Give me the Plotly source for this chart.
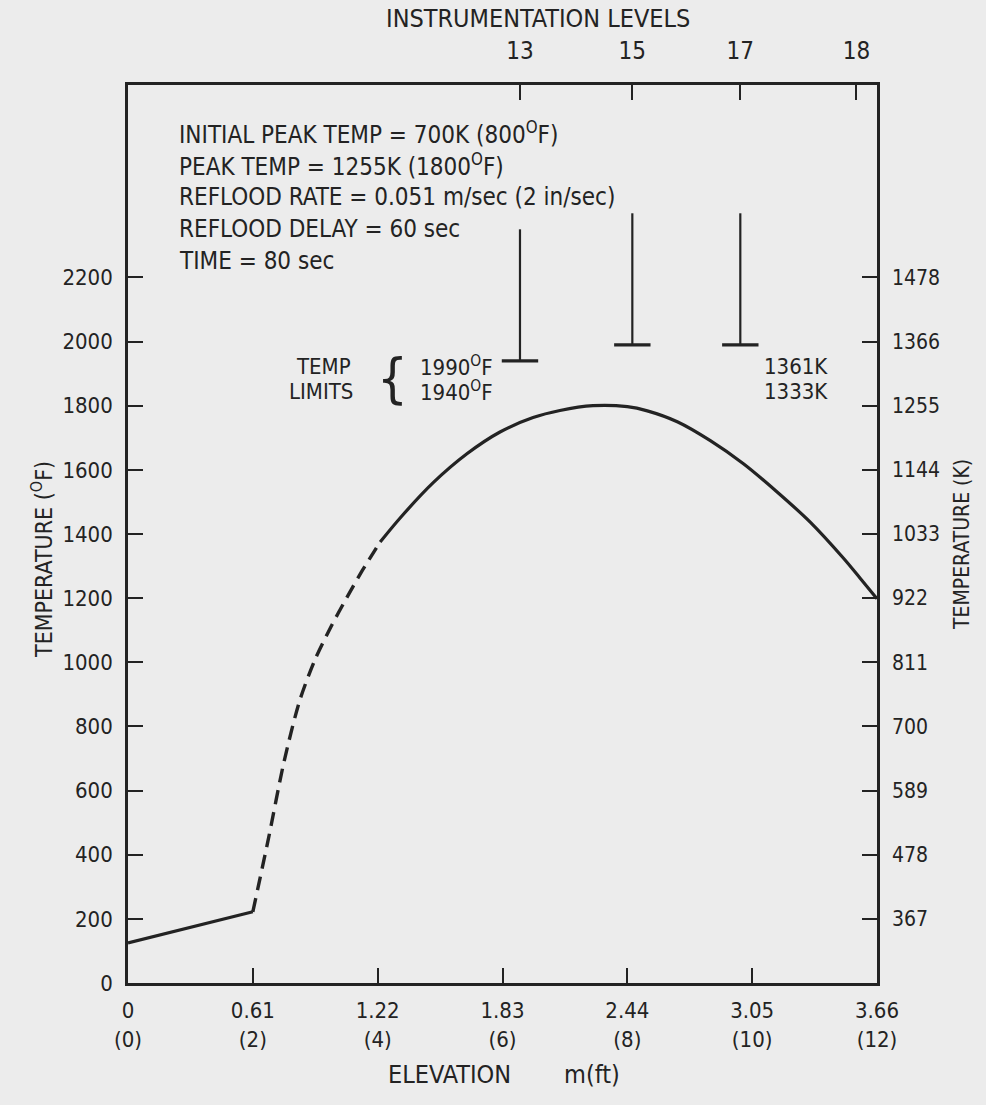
import plotly.graph_objects as go

# ---------------- data ----------------
elev_ft_low = [0.0, 2.0]
temp_low = [125, 222]
elev_ft_dash = [2.0, 2.25, 2.5, 2.75, 3.0, 3.25, 3.5, 3.75, 4.04]
temp_dash = [222, 450, 690, 880, 1010, 1110, 1200, 1285, 1375]
elev_ft_main = [4.04, 4.36, 4.89, 5.43, 5.96, 6.49, 6.92, 7.45, 8.0, 8.32,
                8.8, 9.33, 9.86, 10.4, 10.93, 11.46, 11.73, 12.0]
temp_main = [1375, 1450, 1560, 1650, 1718, 1763, 1785, 1800, 1797, 1784,
             1750, 1691, 1619, 1531, 1437, 1325, 1262, 1198]

x_ticks_ft = [0, 2, 4, 6, 8, 10, 12]
x_tick_m = ["0", "0.61", "1.22", "1.83", "2.44", "3.05", "3.66"]
y_ticks_F = [0, 200, 400, 600, 800, 1000, 1200, 1400, 1600, 1800, 2000, 2200]
k_ticks_F = [200, 400, 600, 800, 1000, 1200, 1400, 1600, 1800, 2000, 2200]
k_labels = ["367", "478", "589", "700", "811", "922", "1033", "1144", "1255", "1366", "1478"]
level_labels = ["13", "15", "17", "18"]
level_pos_ft = [6.28, 8.08, 9.81, 11.67]
limit_pos_ft = [6.28, 8.08, 9.81]
limit_top_F = [2350, 2400, 2400]
limit_F = [1940, 1990, 1990]

info_lines = [
    "INITIAL PEAK TEMP = 700K (800<sup>O</sup>F)",
    "PEAK TEMP = 1255K (1800<sup>O</sup>F)",
    "REFLOOD RATE = 0.051 m/sec (2 in/sec)",
    "REFLOOD DELAY = 60 sec",
    "TIME = 80 sec",
]

# ---------------- layout geometry ----------------
W, H = 986, 1105
L, R, T, B = 128, 877, 85, 983
INK = "#232323"
BG = "#ececec"
FONT = "Liberation Sans Narrow, DejaVu Sans Condensed, Roboto Condensed, Liberation Sans, sans-serif"


def px(xp):
    return (xp - L) / (R - L)


def py(yp):
    return (B - yp) / (B - T)


fig = go.Figure()

fig.add_trace(go.Scatter(x=elev_ft_low, y=temp_low, mode="lines",
                         line=dict(color=INK, width=3.2), hoverinfo="skip"))
fig.add_trace(go.Scatter(x=elev_ft_dash, y=temp_dash, mode="lines",
                         line=dict(color=INK, width=3.4, dash="14px,8px", shape="spline", smoothing=0.8),
                         hoverinfo="skip"))
fig.add_trace(go.Scatter(x=elev_ft_main, y=temp_main, mode="lines",
                         line=dict(color=INK, width=3.2, shape="spline", smoothing=0.9),
                         hoverinfo="skip"))

for xp, top, lim in zip(limit_pos_ft, limit_top_F, limit_F):
    fig.add_trace(go.Scatter(x=[xp, xp], y=[top, lim], mode="lines",
                             line=dict(color=INK, width=2.2), hoverinfo="skip"))
fig.add_trace(go.Scatter(x=limit_pos_ft, y=limit_F, mode="markers",
                         marker=dict(symbol="line-ew", size=26,
                                     line=dict(color=INK, width=3.2)),
                         hoverinfo="skip"))

# invisible trace to anchor secondary axes
fig.add_trace(go.Scatter(x=[0], y=[0], xaxis="x2", yaxis="y2", mode="markers",
                         marker=dict(opacity=0), hoverinfo="skip"))

axis_common = dict(showline=True, linecolor=INK, linewidth=2.6, ticks="inside",
                   ticklen=15, tickwidth=2, tickcolor=INK, showgrid=False,
                   zeroline=False, fixedrange=True)

fig.update_layout(
    width=W, height=H,
    margin=dict(l=L, r=W - R, t=T, b=H - B),
    paper_bgcolor=BG, plot_bgcolor=BG,
    showlegend=False,
    font=dict(family=FONT, color=INK, size=22),
    xaxis=dict(range=[0, 12], tickvals=x_ticks_ft,
               ticktext=[f"{m}<br>({f})" for m, f in zip(x_tick_m, x_ticks_ft)],
               tickfont=dict(size=22), ticklabelstandoff=6, **axis_common),
    xaxis2=dict(range=[0, 12], overlaying="x", side="top", tickvals=level_pos_ft,
                ticktext=level_labels, tickfont=dict(size=24), ticklabelstandoff=14,
                **axis_common),
    yaxis=dict(range=[0, 2800], tickvals=y_ticks_F, ticktext=[str(v) for v in y_ticks_F],
               tickfont=dict(size=22), ticklabelstandoff=8, **axis_common),
    yaxis2=dict(range=[0, 2800], overlaying="y", side="right", tickvals=k_ticks_F,
                ticktext=k_labels, tickfont=dict(size=21), ticklabelstandoff=8,
                **axis_common),
)

ann = []


def add_text(text, xp, yp, size=22, xanchor="left", textangle=0):
    ann.append(dict(text=text, x=px(xp), y=py(yp), xref="paper", yref="paper",
                    xanchor=xanchor, yanchor="middle", showarrow=False,
                    textangle=textangle, font=dict(family=FONT, size=size, color=INK)))


for i, line in enumerate(info_lines):
    add_text(line, 177, 133 + i * 32, size=24)

add_text("TEMP", 323, 366, size=22, xanchor="center")
add_text("LIMITS", 321, 391, size=22, xanchor="center")
add_text("{", 392, 379, size=54, xanchor="center")
add_text("1990<sup>O</sup>F", 418, 366, size=22)
add_text("1940<sup>O</sup>F", 418, 391, size=22)
add_text("1361K", 830, 366, size=22, xanchor="right")
add_text("1333K", 830, 391, size=22, xanchor="right")

add_text("INSTRUMENTATION LEVELS", 538, 18, size=25, xanchor="center")
add_text("ELEVATION", 449, 1074, size=25, xanchor="center")
add_text("m(ft)", 592, 1074, size=25, xanchor="center")
add_text("TEMPERATURE (<sup>O</sup>F)", 42, 560, size=23, xanchor="center", textangle=-90)
add_text("TEMPERATURE (K)", 962, 545, size=21, xanchor="center", textangle=-90)

fig.update_layout(annotations=ann)

fig.write_html("out.html")
